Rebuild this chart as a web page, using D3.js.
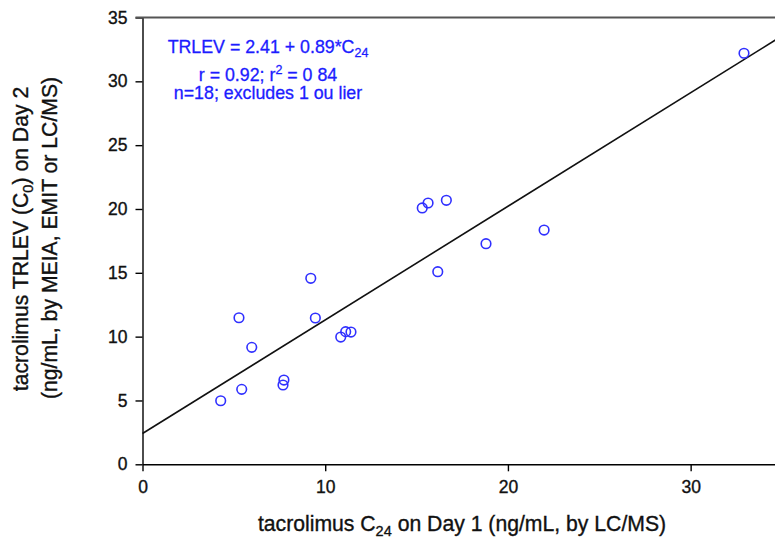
<!DOCTYPE html>
<html>
<head>
<meta charset="utf-8">
<script src="https://cdn.jsdelivr.net/npm/d3@7"></script>
<style>
  body { margin: 0; background: #fff; }
  svg { display: block; font-family: "Liberation Sans", Arial, sans-serif; }
</style>
</head>
<body>
<svg width="775" height="540"></svg>
<script>
// day 1 C24 vs day 2 C0
var c24Day1 = [4.28, 5.43, 5.28, 5.98, 7.69, 7.74, 9.21, 9.46, 10.85, 11.12, 11.41, 15.31, 15.63, 16.16, 16.63, 18.80, 21.98, 32.92];
var c0Day2  = [4.98, 5.87, 11.48, 9.16, 6.21, 6.60, 14.57, 11.46, 9.97, 10.39, 10.36, 20.08, 20.47, 15.09, 20.68, 17.28, 18.35, 32.2];

var xTicks = [0, 10, 20, 30];
var yTicks = [0, 5, 10, 15, 20, 25, 30, 35];

var fitIntercept = 2.41,
    fitSlope = 0.89;

var svg = d3.select("svg"),
    width = +svg.attr("width"),
    height = +svg.attr("height");

var x = d3.scaleLinear().domain([0, 35]).range([142.5, 782]);
var y = d3.scaleLinear().domain([0, 35]).range([464.3, 17.5]);

// axes
var xAxis = svg.append("g")
    .attr("transform", "translate(0," + y(0) + ")")
    .call(d3.axisBottom(x).tickValues(xTicks).tickSize(7).tickPadding(9).tickSizeOuter(0));

var yAxis = svg.append("g")
    .attr("transform", "translate(" + x(0) + ",0)")
    .call(d3.axisLeft(y).tickValues(yTicks).tickSize(7).tickPadding(8).tickSizeOuter(0));

svg.selectAll(".tick text")
    .style("font-size", "17.5px")
    .style("font-family", "Liberation Sans, Arial, sans-serif")
    .attr("fill", "#111")
    .attr("stroke", "#111")
    .attr("stroke-width", 0.35);
svg.selectAll(".domain, .tick line").attr("stroke", "#000").attr("stroke-width", 1.4);

// top frame line
svg.append("line")
    .attr("x1", x(0) - 7).attr("x2", width)
    .attr("y1", y(35)).attr("y2", y(35))
    .attr("stroke", "#555")
    .attr("stroke-width", 2.2);

// regression line
svg.append("line")
    .attr("x1", x(0)).attr("y1", y(fitIntercept))
    .attr("x2", x(35)).attr("y2", y(fitIntercept + fitSlope * 35))
    .attr("stroke", "#111")
    .attr("stroke-width", 1.6);

// points
svg.append("g").selectAll("circle")
    .data(c24Day1)
    .enter().append("circle")
    .attr("cx", function(d) { return x(d); })
    .attr("cy", function(d, i) { return y(c0Day2[i]); })
    .attr("r", 4.8)
    .attr("fill", "none")
    .attr("stroke", "#3030ff")
    .attr("stroke-width", 1.6);

// annotation
var note = svg.append("g")
    .attr("fill", "#1c1cff")
    .attr("stroke", "#1c1cff")
    .attr("stroke-width", 0.3)
    .attr("text-anchor", "middle")
    .style("font-size", "17.8px");

var l1 = note.append("text").attr("x", 268).attr("y", 53);
l1.append("tspan").text("TRLEV = 2.41 + 0.89*C");
l1.append("tspan").attr("dy", 4).style("font-size", "12.5px").text("24");

var l2 = note.append("text").attr("x", 268).attr("y", 80.5);
l2.append("tspan").text("r = 0.92; r");
l2.append("tspan").attr("dy", -7).style("font-size", "12.5px").text("2");
l2.append("tspan").attr("dy", 7).text(" = 0 84");

note.append("text").attr("x", 268).attr("y", 99.3)
    .text("n=18; excludes 1 ou lier");

// axis titles
var titles = svg.append("g")
    .attr("fill", "#111")
    .attr("stroke", "#111")
    .attr("stroke-width", 0.35)
    .attr("text-anchor", "middle")
    .style("font-size", "21.2px");

var xt = titles.append("text")
    .attr("x", 462).attr("y", 531);
xt.append("tspan").text("tacrolimus C");
xt.append("tspan").attr("dy", 5).style("font-size", "14.5px").text("24");
xt.append("tspan").attr("dy", -5).text(" on Day 1 (ng/mL, by LC/MS)");

// y title (two lines)
var yt = titles.append("text")
    .attr("transform", "translate(28,239) rotate(-90)");
yt.append("tspan").text("tacrolimus TRLEV (C");
yt.append("tspan").attr("dy", 5).style("font-size", "14.5px").text("0");
yt.append("tspan").attr("dy", -5).text(") on Day 2");

titles.append("text")
    .attr("transform", "translate(57,238) rotate(-90)")
    .text("(ng/mL, by MEIA, EMIT or LC/MS)");
</script>
</body>
</html>
